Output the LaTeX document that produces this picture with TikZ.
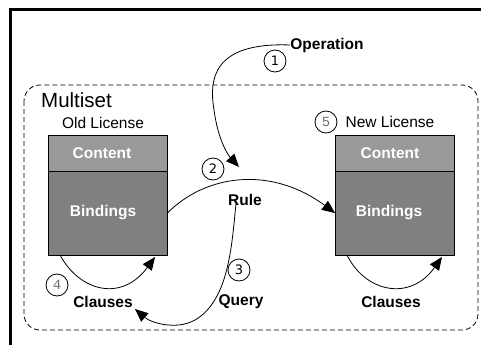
\documentclass[tikz,border=0pt]{standalone}
\usepackage{fontspec}
\setmainfont{Liberation Sans}
\newfontfamily\numfont{DejaVu Sans}
\newfontfamily\monofont{Liberation Mono}
\usetikzlibrary{arrows.meta}
\definecolor{contentgray}{HTML}{999999}
\definecolor{bindgray}{HTML}{808080}
\definecolor{stepgray}{HTML}{707070}
\tikzset{
  lbl/.style={font=\bfseries\fontsize{15.5}{18}\selectfont, inner sep=0pt},
  boxtitle/.style={font=\fontsize{15.5}{18}\selectfont, inner sep=0pt},
  intext/.style={font=\bfseries\fontsize{15.5}{18}\selectfont, text=white, inner sep=0pt},
  part/.style={draw=black, line width=0.9pt, inner sep=0pt, minimum width=119pt},
  stepnum/.style={circle, draw=black, line width=0.8pt, minimum size=22pt, inner sep=0pt,
    font=\numfont\fontsize{13}{14}\selectfont},
  stepnumgray/.style={stepnum, text=stepgray, font=\monofont\fontsize{14}{14}\selectfont},
  arr/.style={line width=0.8pt, -{Triangle[length=13pt,width=11pt]}},
}
\begin{document}
\begin{tikzpicture}[x=1pt,y=-1pt]
\useasboundingbox (0,0) rectangle (481,345);

% outer frame (top and left edges)
\draw[line width=3pt] (481,10) -- (10.5,10) -- (10.5,345);

% multiset region
\draw[dashed, dash pattern=on 5pt off 3pt, line width=0.8pt, rounded corners=16pt]
  (24,85) rectangle (478,330);
\node[anchor=west, font=\fontsize{20.5}{24}\selectfont, inner sep=0pt] (ms) at (41,100) {Multiset};

% old license
\node[boxtitle] (oldt) at (103,123) {Old License};
\node[part, fill=contentgray, minimum height=36pt] (oldc) at (107.5,153) {};
\node[part, fill=bindgray, minimum height=84pt] (oldb) at (107.5,213) {};
\node[intext] (oldct) at (102,153) {Content};
\node[intext] (oldbt) at (103,213) {Bindings};

% new license
\node[boxtitle] (newt) at (390,122) {New License};
\node[part, fill=contentgray, minimum height=36pt] (newc) at (395,153) {};
\node[part, fill=bindgray, minimum height=84pt] (newb) at (395,213) {};
\node[intext] (newct) at (390,153) {Content};
\node[intext] (newbt) at (389,213) {Bindings};

% labels
\node[lbl] (op) at (327,45) {Operation};
\node[lbl] (rule) at (245,200) {Rule};
\node[lbl] (query) at (241,302) {Query};
\node[lbl] (clL) at (103,302) {Clauses};
\node[lbl] (clR) at (391,302) {Clauses};

% step markers
\node[stepnum] (s1) at (275,61) {1};
\node[stepnum] (s2) at (213,169) {2};
\node[stepnum] (s3) at (239,270) {3};
\node[stepnumgray] (s4) at (57,285) {4};
\node[stepnumgray] (s5) at (326,122) {5};

% connector end points
\coordinate (opEnd) at (239,167);
\coordinate (qStart) at (236,204);
\coordinate (qEnd) at (135,309);
\coordinate (lA) at (60,255);
\coordinate (lB) at (155,257);
\coordinate (rA) at (347,255);
\coordinate (rB) at (442,257);

% connectors
\draw[arr] (op.west) .. controls (212,42) and (209,80) .. (214,110)
  .. controls (218,140) and (228,155) .. (opEnd);
\draw[arr] (oldb.east) .. controls (205,175) and (270,165) .. (newb.west);
\draw[arr] (qStart) .. controls (232,240) and (230,300) .. (195,320)
  .. controls (175,331) and (150,322) .. (qEnd);
\draw[arr] (lA) .. controls (80,292) and (122,302) .. (lB);
\draw[arr] (rA) .. controls (365,292) and (410,302) .. (rB);
\end{tikzpicture}
\end{document}
